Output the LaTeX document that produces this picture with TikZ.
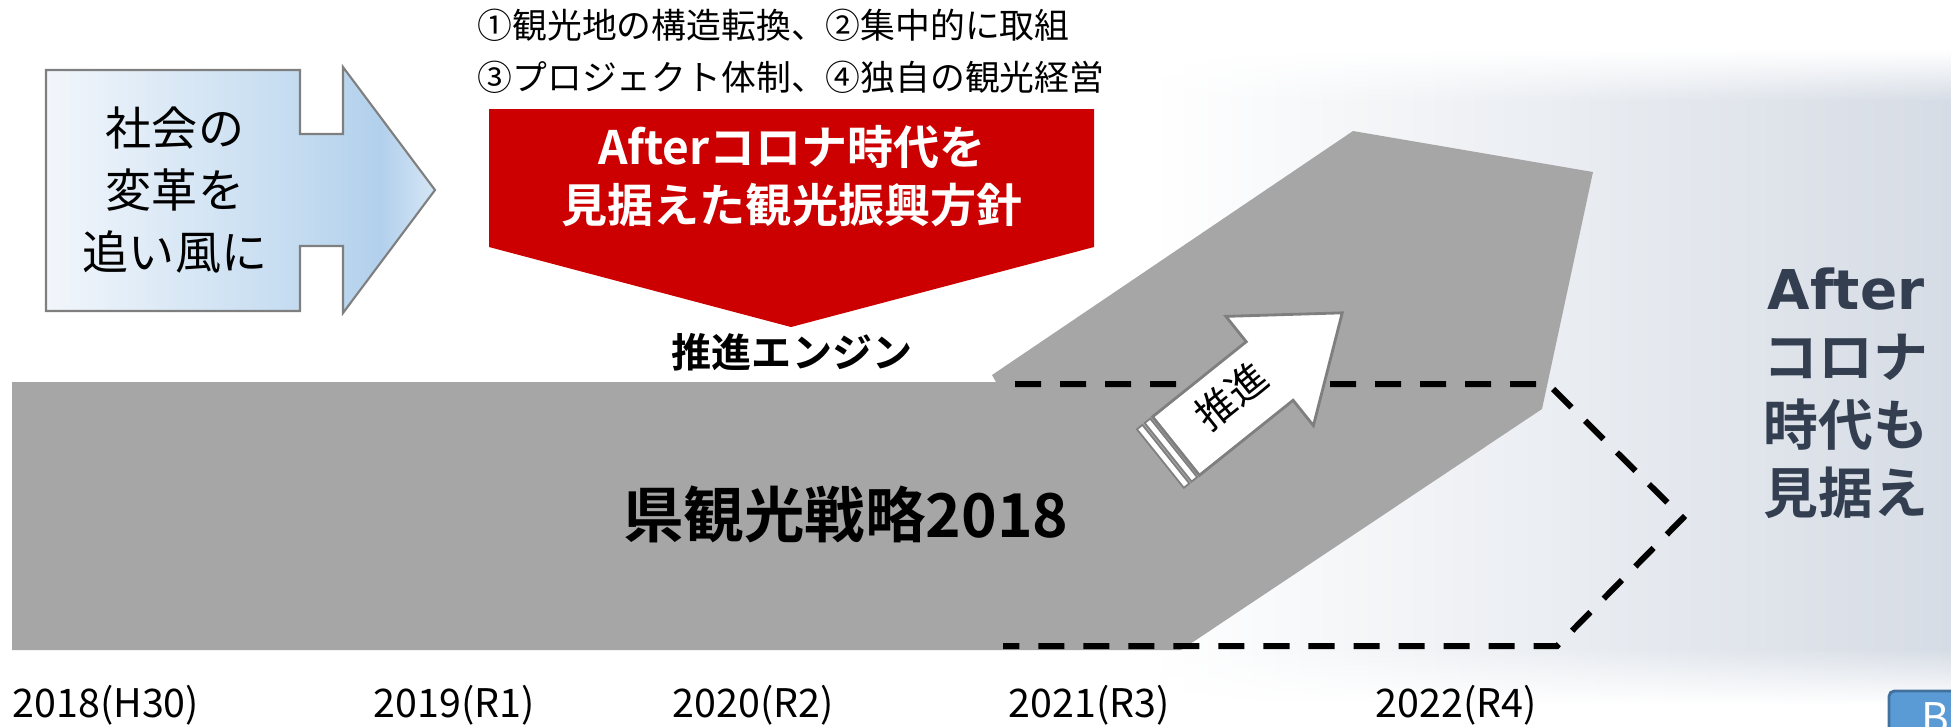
\documentclass[tikz,border=0pt]{standalone}
\usepackage{fontspec}
\setmainfont{Noto Sans CJK JP}[BoldFont={Noto Sans CJK JP Bold}]
\newfontfamily\latinbold{DejaVu Sans}[BoldFont={DejaVu Sans Bold}]
\usetikzlibrary{fadings}

\definecolor{redbox}{HTML}{CC0000}
\definecolor{bandgray}{HTML}{A6A6A6}
\definecolor{slate}{HTML}{333F50}
\definecolor{bgslate}{HTML}{D6DCE5}
\definecolor{edgegray}{HTML}{7F7F7F}
\definecolor{btnblue}{HTML}{5B9BD5}
\definecolor{btnedge}{HTML}{41719C}
\definecolor{windA}{HTML}{F2F6FB}
\definecolor{windB}{HTML}{C3DBF0}
\definecolor{windC}{HTML}{B2D0EC}
\definecolor{windD}{HTML}{D5E6F5}

\pgfdeclarehorizontalshading{windfill}{100bp}{color(0bp)=(windA); color(25bp)=(windA); color(58bp)=(windB); color(68bp)=(windC); color(75bp)=(windD); color(100bp)=(windD)}

\begin{document}
\begin{tikzpicture}[x=0.01cm, y=-0.01cm, every node/.style={inner sep=0pt},
  notetext/.style={anchor=west, font=\fontsize{9.9}{12}\selectfont},
  yeartext/.style={anchor=west, font=\fontsize{11.2}{13}\selectfont},
  dashline/.style={line width=1.7pt, dash pattern=on 7.4pt off 5.4pt},
  stripe/.style={draw=edgegray, fill=white, line width=0.5pt}]

  % 表示範囲
  \useasboundingbox (0,0) rectangle (1951,726);
  \clip (0,0) rectangle (1951,726);

  % 右側の背景グラデーション
  \shade[left color=white, right color=bgslate] (1150,100) rectangle (1951,650);
  \shade[left color=white, right color=bgslate, path fading=north] (1150,50) rectangle (1951,101);
  \shade[left color=white, right color=bgslate, path fading=south] (1150,649) rectangle (1951,705);

  % 左の矢印
  \shadedraw[shading=windfill, draw=edgegray, line width=0.6pt]
    (46,70) -- (300,70) -- (300,134) -- (343,134) -- (343,67) -- (435,190)
    -- (343,313) -- (343,246) -- (300,246) -- (300,311) -- (46,311) -- cycle;
  \node[align=center, font=\fontsize{13.1}{17.6}\selectfont] (wind) at (175,190) {社会の\\変革を\\追い風に};

  % 上部の注記
  \node[notetext] (note1) at (477,25) {①観光地の構造転換、②集中的に取組};
  \node[notetext] (note2) at (477,77) {③プロジェクト体制、④独自の観光経営};

  % 赤い五角形
  \fill[redbox] (489,109) -- (1094,109) -- (1094,247) -- (791,327) -- (489,247) -- cycle;
  \node[align=center, white, font=\bfseries\fontsize{13.1}{16.5}\selectfont] (policy) at (792,176) {Afterコロナ時代を\\見据えた観光振興方針};
  \node[font=\bfseries\fontsize{11.4}{13}\selectfont] (engine) at (792,352) {推進エンジン};

  % 灰色の帯
  \fill[bandgray] (12,382) -- (996,382) -- (992,375) -- (1353,131) -- (1593,172)
    -- (1542,409) -- (1181,650) -- (12,650) -- cycle;
  \node[font=\bfseries\fontsize{17.2}{19}\selectfont] (strategy) at (846,514) {県観光戦略2018};

  % 破線の五角形
  \draw[dashline] (1015,384) -- (1548,384) -- (1683,518) -- (1557,646) -- (1003,646);

  % 推進の矢印
  \begin{scope}[shift={(1176,446)}, rotate=38.7]
    \draw[stripe] (-20,-37.5) rectangle (-13,37.5);
    \draw[stripe] (-10,-37.5) rectangle (-3,37.5);
    \draw[fill=white, draw=edgegray, line width=0.8pt]
      (0,-37.5) -- (120,-37.5) -- (120,-70) -- (213,0) -- (120,70) -- (120,37.5) -- (0,37.5) -- cycle;
  \end{scope}
  \node[rotate=38.7, font=\fontsize{11.2}{13}\selectfont] (push) at (1231,396) {推進};

  % 右の見出し
  \node[align=center, text=slate, font=\bfseries\fontsize{15.6}{19.3}\selectfont] (after) at (1846,393)
    {{\latinbold After}\\コロナ\\時代も\\見据え};

  % 年度
  \node[yeartext] (y2018) at (12,705) {2018(H30)};
  \node[yeartext] (y2019) at (373,705) {2019(R1)};
  \node[yeartext] (y2020) at (672,705) {2020(R2)};
  \node[yeartext] (y2021) at (1008,705) {2021(R3)};
  \node[yeartext] (y2022) at (1375,705) {2022(R4)};

  % 右下のボタン
  \draw[fill=btnblue, draw=btnedge, line width=0.8pt, rounded corners=1.5pt] (1889,691) rectangle (1990,770);
  \node[anchor=base west, white, font=\fontsize{12}{14}\selectfont] (btn) at (1921,733) {B};

\end{tikzpicture}
\end{document}
